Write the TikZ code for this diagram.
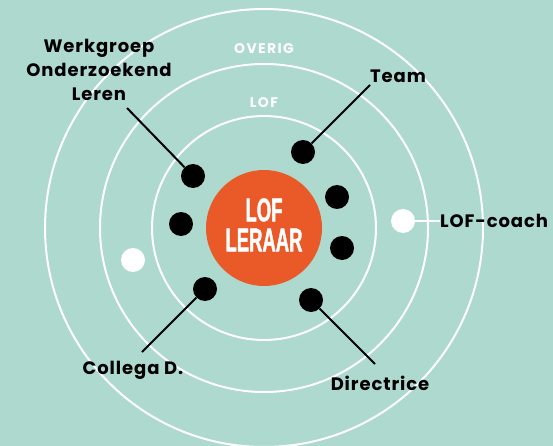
\documentclass[tikz,border=0pt]{standalone}
\usepackage{fontspec}
\setmainfont[LetterSpace=5]{Poppins}
\newfontfamily\condfont[FakeStretch=0.56,FakeBold=1.2]{Liberation Sans}
\newfontfamily\ringfont[LetterSpace=10]{Poppins}
\definecolor{mint}{HTML}{ADD9CF}
\definecolor{lof}{HTML}{EA5A29}

\begin{document}
\begin{tikzpicture}[x=1pt,y=-1pt,
  dot/.style={fill=black,circle,inner sep=0pt,minimum size=24pt},
  wdot/.style={fill=white,circle,inner sep=0pt,minimum size=24pt},
  lbl/.style={font=\bfseries\fontsize{18}{24}\selectfont,align=center,inner sep=0pt},
  ring/.style={white,line width=2pt},
  ringlbl/.style={font=\ringfont\bfseries\fontsize{14}{14}\selectfont,text=white,inner sep=0pt},
  link/.style={line width=2pt}]
  \fill[mint] (0,0) rectangle (553,446);
  \useasboundingbox (0,0) rectangle (553,446);
  \coordinate (c) at (264,228);
  % rings
  \draw[ring] (c) circle [radius=112pt];
  \draw[ring] (c) circle [radius=164pt];
  \draw[ring] (c) circle [radius=219pt];
  \node (ovr) at (264,49) [ringlbl] {OVERIG};
  \node (lofr) at (264,103) [ringlbl] {LOF};
  % centre
  \node (leraar) at (c) [fill=lof,circle,inner sep=0pt,minimum size=116pt] {};
  \node (t1) at (264,210) [font=\condfont\bfseries\fontsize{33}{33}\selectfont,text=white,inner sep=0pt] {LOF};
  \node (t2) at (264,240) [font=\condfont\bfseries\fontsize{33}{33}\selectfont,text=white,inner sep=0pt] {LERAAR};
  % people
  \node (wol) at (193,176) [dot] {};
  \node (team) at (303,152) [dot] {};
  \node (r1) at (337,197) [dot] {};
  \node (r2) at (342,248) [dot] {};
  \node (l1) at (181,224) [dot] {};
  \node (col) at (205,289) [dot] {};
  \node (dir) at (311,300) [dot] {};
  \node (w1) at (133,260) [wdot] {};
  \node (coachdot) at (403,221) [wdot] {};
  % labels
  \node (wollbl) at (99,70) [lbl] {Werkgroep\\Onderzoekend\\Leren};
  \node (teamlbl) at (398,76) [lbl] {Team};
  \node (coach) at (440,221) [lbl,anchor=west] {LOF-coach};
  \node (collbl) at (133,370) [lbl] {Collega D.};
  \node (dirlbl) at (380,383) [lbl] {Directrice};
  \coordinate (wolend) at (127,108);
  \coordinate (teamend) at (370,85);
  \coordinate (colend) at (142,352);
  \coordinate (dirend) at (375,364);
  \draw[link] (wolend) -- (wol);
  \draw[link] (teamend) -- (team);
  \draw[link] (colend) -- (col);
  \draw[link] (dirend) -- (dir);
  \draw[link,white] (coachdot) -- (coach.west);
\end{tikzpicture}
\end{document}
